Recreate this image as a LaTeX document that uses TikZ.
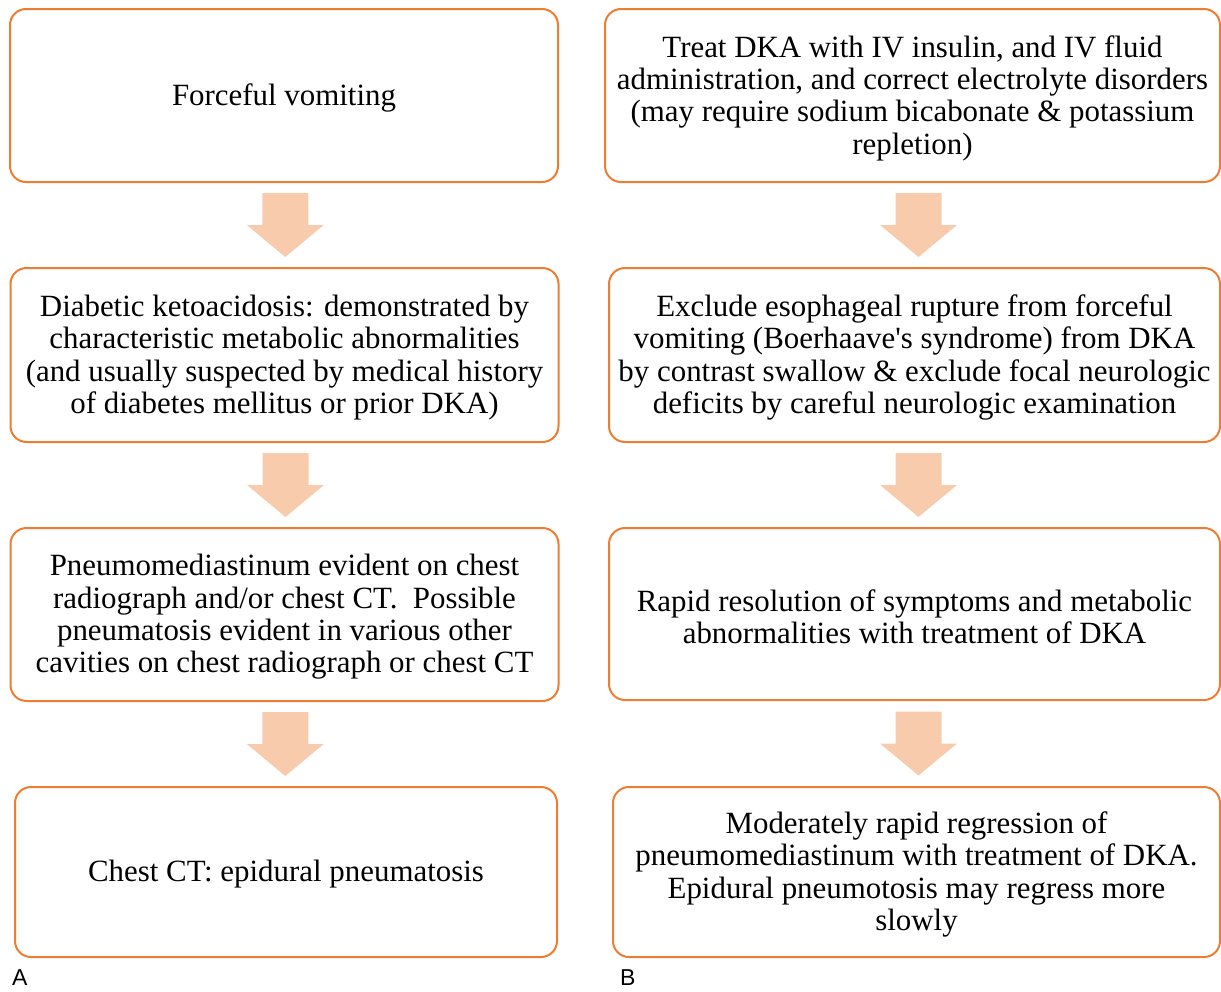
\documentclass[tikz,border=0pt]{standalone}
\usepackage{fontspec}
\setmainfont{Liberation Serif}
\newfontfamily\straightfont{Liberation Serif}[Ligatures=TeXOff]
\newfontfamily\labfont{Liberation Sans}
\usetikzlibrary{calc}
\definecolor{boxorange}{HTML}{ED7D31}
\definecolor{arrowpeach}{HTML}{F8CBAD}
\tikzset{
  flowbox/.style={draw=boxorange, line width=2pt, rounded corners=16pt, fill=white, inner sep=0pt},
  flowtext/.style={align=center, inner sep=0pt, font=\fontsize{30.9}{32.3}\selectfont, yshift=-2.5pt},
  arrowfill/.style={fill=arrowpeach, draw=none},
  panellabel/.style={font=\labfont\fontsize{23}{26}\selectfont, anchor=base west, inner sep=0pt}
}
\newcommand{\flowarrow}[4]{%
  \coordinate (#1) at ($(#2.south)!0.5!(#3.north)+(#4,0)$);
  \fill[arrowfill] ([shift={(-23,-32)}]#1) -- ([shift={(23,-32)}]#1) -- ([shift={(23,0)}]#1)
    -- ([shift={(38.5,0)}]#1) -- ([shift={(0,32)}]#1) -- ([shift={(-38.5,0)}]#1)
    -- ([shift={(-23,0)}]#1) -- cycle;}
\begin{document}
\begin{tikzpicture}[x=1pt,y=-1pt]
\useasboundingbox (0,0) rectangle (1221,991);
% left column boxes
\node[flowbox, minimum width=548pt, minimum height=173pt] (L1) at (284,95.5) {};
\node[flowbox, minimum width=548pt, minimum height=174pt] (L2) at (284.5,355) {};
\node[flowbox, minimum width=548pt, minimum height=173pt] (L3) at (284.5,614.5) {};
\node[flowbox, minimum width=542pt, minimum height=170pt] (L4) at (286,872) {};
% right column boxes
\node[flowbox, minimum width=615pt, minimum height=173pt] (R1) at (912.5,95.5) {};
\node[flowbox, minimum width=611pt, minimum height=174pt] (R2) at (914.5,355) {};
\node[flowbox, minimum width=611pt, minimum height=172pt] (R3) at (914.5,614) {};
\node[flowbox, minimum width=607pt, minimum height=170pt] (R4) at (916.5,872) {};
% texts
\node[flowtext] (L1t) at (L1.center) {Forceful vomiting};
\node[flowtext] (L2t) at (L2.center) {Diabetic ketoacidosis: demonstrated by\\characteristic metabolic abnormalities\\(and usually suspected by medical history\\of diabetes mellitus or prior DKA)};
\node[flowtext] (L3t) at (L3.center) {Pneumomediastinum evident on chest\\radiograph and/or chest CT.\ \ Possible\\pneumatosis evident in various other\\cavities on chest radiograph or chest CT};
\node[flowtext] (L4t) at (L4.center) {Chest CT: epidural pneumatosis};
\node[flowtext] (R1t) at (R1.center) {Treat DKA with IV insulin, and IV fluid\\administration, and correct electrolyte disorders\\(may require sodium bicabonate \& potassium\\repletion)};
\node[flowtext] (R2t) at (R2.center) {Exclude esophageal rupture from forceful\\vomiting (Boerhaave{\straightfont'}s syndrome) from DKA\\by contrast swallow \& exclude focal neurologic\\deficits by careful neurologic examination};
\node[flowtext] (R3t) at (R3.center) {Rapid resolution of symptoms and metabolic\\abnormalities with treatment of DKA};
\node[flowtext] (R4t) at (R4.center) {Moderately rapid regression of\\pneumomediastinum with treatment of DKA.\\Epidural pneumotosis may regress more\\slowly};
% block arrows
\flowarrow{aL1}{L1}{L2}{1}
\flowarrow{aL2}{L2}{L3}{1}
\flowarrow{aL3}{L3}{L4}{0}
\flowarrow{aR1}{R1}{R2}{5}
\flowarrow{aR2}{R2}{R3}{4}
\flowarrow{aR3}{R3}{R4}{3}
% panel labels
\node[panellabel] (labA) at (12,985) {A};
\node[panellabel] (labB) at (620,985) {B};
\end{tikzpicture}
\end{document}
